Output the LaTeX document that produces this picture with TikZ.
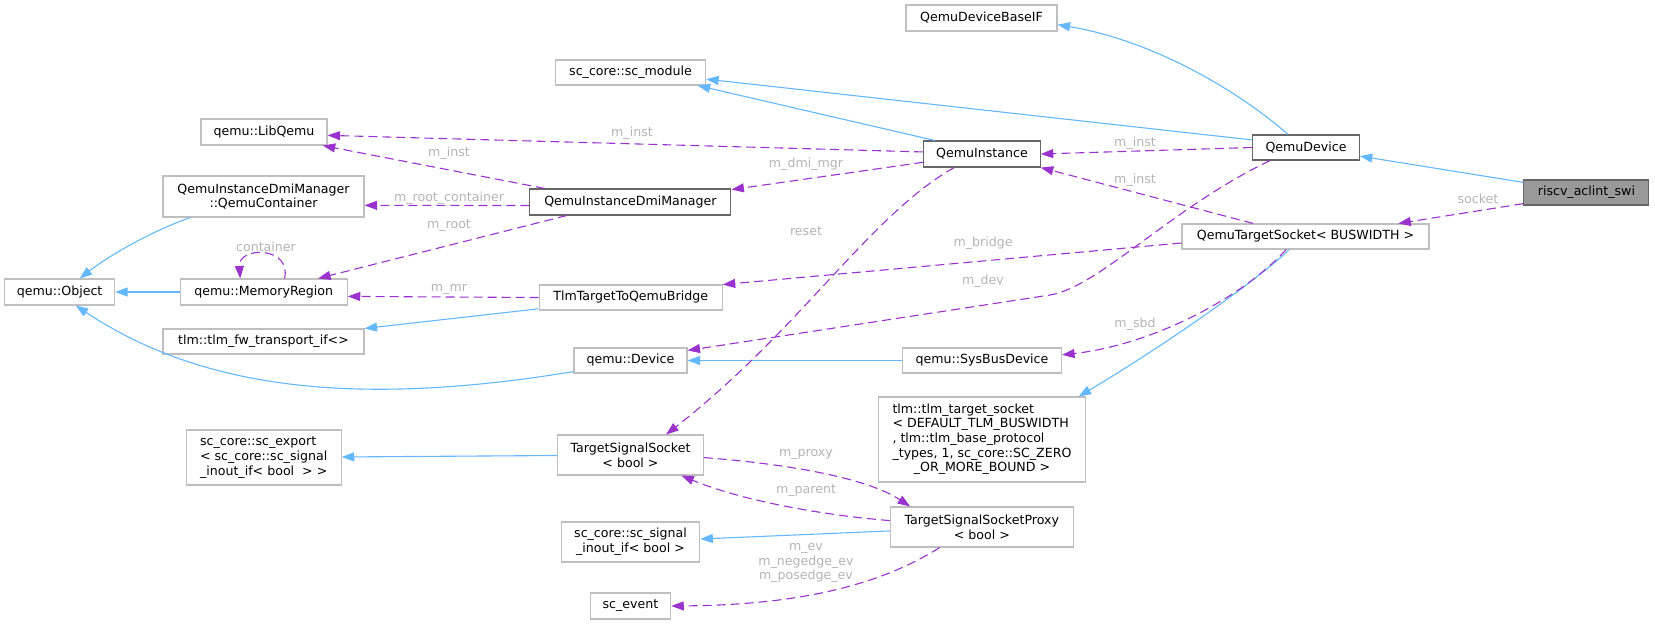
\documentclass[tikz,border=0pt]{standalone}
\usepackage{fontspec}
\setmainfont{DejaVu Sans}
\usetikzlibrary{arrows.meta}

\definecolor{inhblue}{HTML}{63B8FF}
\definecolor{usepurple}{HTML}{9A32CD}
\definecolor{lblgrey}{HTML}{B4B4B4}
\definecolor{boxgrey}{HTML}{BFBFBF}
\definecolor{boxdark}{HTML}{666666}
\definecolor{rootfill}{HTML}{999999}

\begin{document}
\begin{tikzpicture}[
  x=1pt,y=-1pt,
  >={Triangle[length=12.5pt,width=9pt]},
  font=\fontsize{12.6}{14.7}\selectfont,
  c0/.style={rectangle,draw=boxgrey,line width=1.1pt,fill=white,inner sep=0pt},
  c1/.style={c0,draw=boxdark},
  c2/.style={c1,fill=rootfill},
  sz/.style 2 args={minimum width=#1pt,minimum height=#2pt},
  inh/.style={->,draw=inhblue,line width=1.1pt},
  mem/.style={->,draw=usepurple,line width=1.1pt,dash pattern=on 9pt off 5pt},
  lbl/.style={text=lblgrey,inner sep=0pt,align=center}
]
  \useasboundingbox (0,0) rectangle (1655,624);

  \node[c2,sz={125}{25}](swi) at (1586.4,192.5){riscv\_aclint\_swi};
  \node[c1,sz={106.5}{25}](qdev) at (1306,147.5){QemuDevice};
  \node[c0,sz={151}{26}](baseif) at (981.5,18){QemuDeviceBaseIF};
  \node[c0,sz={150}{25}](scmod) at (630.5,72.5){sc\_core::sc\_module};
  \node[c1,sz={116.5}{26}](qinst) at (982,154){QemuInstance};
  \node[c0,sz={126}{26}](libq) at (264,132){qemu::LibQemu};
  \node[c1,sz={201}{26}](dmimgr) at (630.4,202){QemuInstanceDmiManager};
  \node[c0,sz={201}{41},align=center](qcont) at (263.5,196.5){QemuInstanceDmiManager\\::QemuContainer};
  \node[c0,sz={247}{25}](tsock) at (1305.5,236.5){QemuTargetSocket< BUSWIDTH >};
  \node[c0,sz={110}{26}](qobj) at (59.6,292){qemu::Object};
  \node[c0,sz={167}{26}](memreg) at (263.7,292){qemu::MemoryRegion};
  \node[c0,sz={183}{25}](bridge) at (630.7,297.5){TlmTargetToQemuBridge};
  \node[c0,sz={201}{25}](fwif) at (263.5,341.5){tlm::tlm\_fw\_transport\_if<>};
  \node[c0,sz={113}{25}](qdevice) at (630.5,360.5){qemu::Device};
  \node[c0,sz={159}{25}](sysbus) at (982,360.5){qemu::SysBusDevice};
  \node[c0,sz={207}{85}](tlmsock) at (982,439.5){\begin{tabular}{@{}l@{}}tlm::tlm\_target\_socket\\< DEFAULT\_TLM\_BUSWIDTH\\, tlm::tlm\_base\_protocol\\\_types, 1, sc\_core::SC\_ZERO\\\multicolumn{1}{@{}c@{}}{\_OR\_MORE\_BOUND >}\end{tabular}};
  \node[c0,sz={155}{55},align=left](scexp) at (263.7,457.5){sc\_core::sc\_export\\< sc\_core::sc\_signal\\\_inout\_if< bool\ \ > >};
  \node[c0,sz={145.4}{40},align=center](sigsock) at (630.5,455){TargetSignalSocket\\< bool >};
  \node[c0,sz={183}{40},align=center](proxy) at (981.8,527){TargetSignalSocketProxy\\< bool >};
  \node[c0,sz={138.6}{40},align=center](sigif) at (630.5,542){sc\_core::sc\_signal\\\_inout\_if< bool >};
  \node[c0,sz={80.4}{26}](scevent) at (630.5,606){sc\_event};

  \draw[inh] (swi) -- (qdev);
  \draw[inh] (qdev.144) .. controls (1235,88) and (1150,40) .. (baseif.-5);
  \draw[inh] (qdev.172) -- (scmod.-5);
  \draw[inh] (qinst.164) -- (scmod.-11);
  \draw[inh] (qcont.196) .. controls (150,232) and (110,255) .. (qobj.34);
  \draw[inh] (memreg) -- (qobj);
  \draw[inh] (bridge.187) -- (fwif.north east);
  \draw[inh] (qdevice.191) .. controls (352,408) and (200,388) .. (qobj.-40);
  \draw[inh] (sysbus) -- (qdevice);
  \draw[inh] (tsock.-141) .. controls (1255,282) and (1165,345) .. (tlmsock.24);
  \draw[inh] (sigsock) -- (scexp);
  \draw[inh] (proxy) -- (sigif);

  \draw[mem] (swi.190) -- (tsock.8.7);
  \draw[mem] (qdev.west) -- (qinst.east);
  \draw[mem] (tsock.166) -- (qinst.south east);
  \draw[mem] (qinst.178) -- (libq.-3);
  \draw[mem] (qinst.188) -- (dmimgr.7.8);
  \draw[mem] (dmimgr.171.4) -- (libq.-13);
  \draw[mem] (dmimgr.182) -- (qcont.-5.4);
  \draw[mem] (dmimgr.192.3) -- (memreg.14.5);
  \draw[mem] (memreg.33) .. controls (292,246) and (238,246) .. (memreg.150);
  \draw[mem] (bridge.west) -- (memreg.-3);
  \draw[mem] (tsock.183.5) -- (bridge.8.2);
  \draw[mem] (qdev.-160) .. controls (1172,207) and (1099,287) .. (1050,295) -- (qdevice.10.5);
  \draw[mem] (qinst.-154) .. controls (870,215) and (800,330) .. (sigsock.30);
  \draw[mem] (tsock.-146) .. controls (1240,300) and (1150,345) .. (sysbus.4.7);
  \draw[mem] (sigsock.-2) .. controls (800,465) and (870,480) .. (proxy.164);
  \draw[mem] (proxy.176) .. controls (820,515) and (740,500) .. (sigsock.-22);
  \draw[mem] (proxy.-154) .. controls (880,585) and (800,605) .. (scevent.east);

  \node[lbl](l1) at (1478,199){socket};
  \node[lbl](l2) at (1135,143){m\_inst};
  \node[lbl](l3) at (1135,180){m\_inst};
  \node[lbl](l4) at (632,133){m\_inst};
  \node[lbl](l5) at (806,164){m\_dmi\_mgr};
  \node[lbl](l6) at (449,153){m\_inst};
  \node[lbl](l7) at (449,198){m\_root\_container};
  \node[lbl](l8) at (449,226){m\_root};
  \node[lbl](l9) at (266,247){container};
  \node[lbl](l10) at (449,289){m\_mr};
  \node[lbl](l11) at (806,231){reset};
  \node[lbl](l12) at (983,243){m\_bridge};
  \node[lbl](l13) at (983,281){m\_dev};
  \node[lbl](l14) at (1135,324){m\_sbd};
  \node[lbl](l15) at (806,454){m\_proxy};
  \node[lbl](l16) at (806,491){m\_parent};
  \node[lbl](l17) at (806,563){m\_ev\\m\_negedge\_ev\\m\_posedge\_ev};
\end{tikzpicture}
\end{document}
